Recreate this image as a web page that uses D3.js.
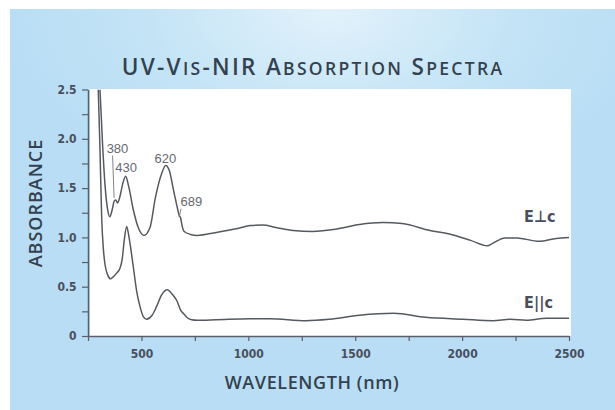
<!DOCTYPE html>
<html><head><meta charset="utf-8">
<script src="https://cdn.jsdelivr.net/npm/d3@7"></script>
<style>html,body{margin:0;padding:0;background:#fff;}svg{display:block;}</style>
</head><body>
<svg id="chart" width="615" height="410"></svg>
<script>
// ---- data ----
const perpNm  = [306,318,330,342,352,362,373,380,388,400,413,426,440,462,485,512,540,565,595,613,630,650,668,677,683,690,700,730,760,850,950,1010,1068,1130,1210,1300,1415,1520,1630,1720,1850,1940,2040,2118,2143,2200,2255,2360,2440,2500];
const perpAbs = [2.50,1.95,1.52,1.28,1.21,1.27,1.37,1.38,1.35,1.42,1.55,1.62,1.52,1.28,1.10,1.02,1.10,1.40,1.65,1.73,1.68,1.48,1.30,1.22,1.20,1.12,1.06,1.03,1.02,1.05,1.09,1.12,1.125,1.10,1.07,1.06,1.085,1.13,1.15,1.14,1.07,1.035,0.97,0.915,0.94,0.995,0.995,0.96,0.99,1.0];
const paraNm  = [298,306,314,322,330,342,355,368,385,400,410,420,431,442,462,478,493,508,524,550,571,595,621,645,665,684,700,712,735,760,850,1010,1100,1270,1380,1520,1680,1830,2005,2145,2225,2300,2395,2500];
const paraAbs = [2.50,1.90,1.20,0.88,0.72,0.62,0.58,0.60,0.64,0.69,0.78,0.98,1.11,1.00,0.70,0.45,0.30,0.20,0.17,0.21,0.30,0.42,0.47,0.42,0.36,0.26,0.22,0.19,0.165,0.16,0.165,0.175,0.175,0.155,0.17,0.21,0.23,0.19,0.17,0.155,0.17,0.16,0.18,0.18];
const xTicks = [250,500,750,1000,1250,1500,1750,2000,2250,2500];
const xTickLabels = ["","500","","1000","","1500","","2000","","2500"];
const yTicks = [0,0.25,0.5,0.75,1.0,1.25,1.5,1.75,2.0,2.25,2.5];
const yTickLabels = ["0","","0.5","","1.0","","1.5","","2.0","","2.5"];
const seriesLabels = ["E\u22A5c","E||c"];
const peakLabels = ["380","430","620","689"];

const svg = d3.select("#chart");
const W = 615, H = 410;
const x = d3.scaleLinear().domain([250,2500]).range([88,569]);
const y = d3.scaleLinear().domain([0,2.5]).range([336,89.5]);

// background
const defs = svg.append("defs");
const rg = defs.append("radialGradient").attr("id","bg").attr("gradientUnits","userSpaceOnUse")
  .attr("cx",330).attr("cy",10).attr("r",330).attr("gradientTransform","translate(330,10) scale(1,0.6) translate(-330,-10)");
rg.append("stop").attr("offset","0").attr("stop-color","#e2f2fb");
rg.append("stop").attr("offset","0.55").attr("stop-color","#c4e4f6");
rg.append("stop").attr("offset","1").attr("stop-color","#b8ddf4");
svg.append("rect").attr("width",W).attr("height",H).attr("fill","#ffffff");
svg.append("rect").attr("x",10).attr("y",9).attr("width",W-10).attr("height",H-9).attr("fill","#bbdff5");
svg.append("rect").attr("x",10).attr("y",9).attr("width",W-10).attr("height",H-9).attr("fill","url(#bg)");

// plot area
svg.append("rect").attr("x",x(250)+2).attr("y",y(2.5)-0.5).attr("width",x(2500)+2-x(250)-2).attr("height",y(0)-y(2.5)+0.5).attr("fill","#ffffff");

const axisColor = "#5b5f6c";
const labelFont = "'DejaVu Sans Condensed','Liberation Sans Narrow','Liberation Sans',sans-serif";

// axes
const xAxis = d3.axisBottom(x).tickValues(xTicks).tickSize(5).tickSizeOuter(0).tickFormat((d,i)=>xTickLabels[i]);
const gx = svg.append("g").attr("transform",`translate(0,${y(0)})`).call(xAxis);
const yAxis = d3.axisLeft(y).tickValues(yTicks).tickSize(6).tickSizeOuter(0).tickFormat((d,i)=>yTickLabels[i]);
const gy = svg.append("g").attr("transform",`translate(${x(250)},0)`).call(yAxis);
[gx,gy].forEach(g=>{
  g.select(".domain").attr("stroke",axisColor).attr("stroke-width",1.5);
  g.selectAll(".tick line").attr("stroke",axisColor).attr("stroke-width",1.2);
  g.selectAll(".tick text").attr("fill","#4a4f5e").attr("font-family",labelFont)
    .attr("font-weight","bold").attr("font-size",12);
});
gx.selectAll(".tick text").attr("dy","1.2em");
gy.selectAll(".tick text").attr("dx","-0.2em");

// curves
const line = d3.line().x(d=>x(d[0])).y(d=>y(d[1])).curve(d3.curveMonotoneX);
const clip = defs.append("clipPath").attr("id","pc").append("rect")
  .attr("x",x(250)).attr("y",y(2.5)).attr("width",x(2500)-x(250)+1).attr("height",y(0)-y(2.5));
const g = svg.append("g").attr("clip-path","url(#pc)");
g.append("path").datum(d3.zip(perpNm,perpAbs)).attr("d",line).attr("fill","none").attr("stroke","#555a60").attr("stroke-width",1.5);
g.append("path").datum(d3.zip(paraNm,paraAbs)).attr("d",line).attr("fill","none").attr("stroke","#555a60").attr("stroke-width",1.5);

// series labels
svg.append("text").attr("x",x(2290)).attr("y",y(1.155)).text(seriesLabels[0])
  .attr("font-family",labelFont).attr("font-weight","bold").attr("font-size",16).attr("fill","#4a4f5e");
svg.append("text").attr("x",x(2290)).attr("y",y(0.284)).text(seriesLabels[1])
  .attr("font-family",labelFont).attr("font-weight","bold").attr("font-size",16).attr("fill","#4a4f5e");

// peak annotations
const pf = "'Liberation Sans',Arial,sans-serif";
const ann = [
  {t:peakLabels[0], nm:388, a:1.86, l:[[365,1.83],[372,1.40]]},
  {t:peakLabels[1], nm:428, a:1.66, l:null},
  {t:peakLabels[2], nm:612, a:1.755, l:null},
  {t:peakLabels[3], nm:734, a:1.32, l:[[685,1.29],[677,1.21]]}
];
ann.forEach(d=>{
  svg.append("text").attr("x",x(d.nm)).attr("y",y(d.a)).attr("text-anchor","middle").text(d.t)
    .attr("font-family",pf).attr("font-size",13).attr("fill","#666a70");
  if(d.l) svg.append("line").attr("x1",x(d.l[0][0])).attr("y1",y(d.l[0][1])).attr("x2",x(d.l[1][0])).attr("y2",y(d.l[1][1]))
    .attr("stroke","#777").attr("stroke-width",0.9);
});

// titles
const tf = "'Open Sans','Lato',sans-serif";
const title = svg.append("text").attr("x",313).attr("y",74.5).attr("text-anchor","middle")
  .attr("font-family",tf).attr("font-weight",600).attr("fill","#34414e").attr("letter-spacing",2.3);
[["UV-V",22.5],["IS",17.5],["-NIR A",22.5],["BSORPTION",17.5],[" S",22.5],["PECTRA",17.5]].forEach(p=>{
  title.append("tspan").attr("font-size",p[1]).text(p[0]);
});
svg.append("text").attr("x",312).attr("y",389).attr("text-anchor","middle").text("WAVELENGTH (nm)")
  .attr("font-family",tf).attr("font-weight",600).attr("font-size",18).attr("letter-spacing",0.6).attr("fill","#34414e");
svg.append("text").attr("transform","translate(42,203) rotate(-90)").attr("text-anchor","middle").text("ABSORBANCE")
  .attr("font-family",tf).attr("font-weight",600).attr("font-size",18).attr("letter-spacing",1).attr("fill","#34414e");
</script>
</body></html>
